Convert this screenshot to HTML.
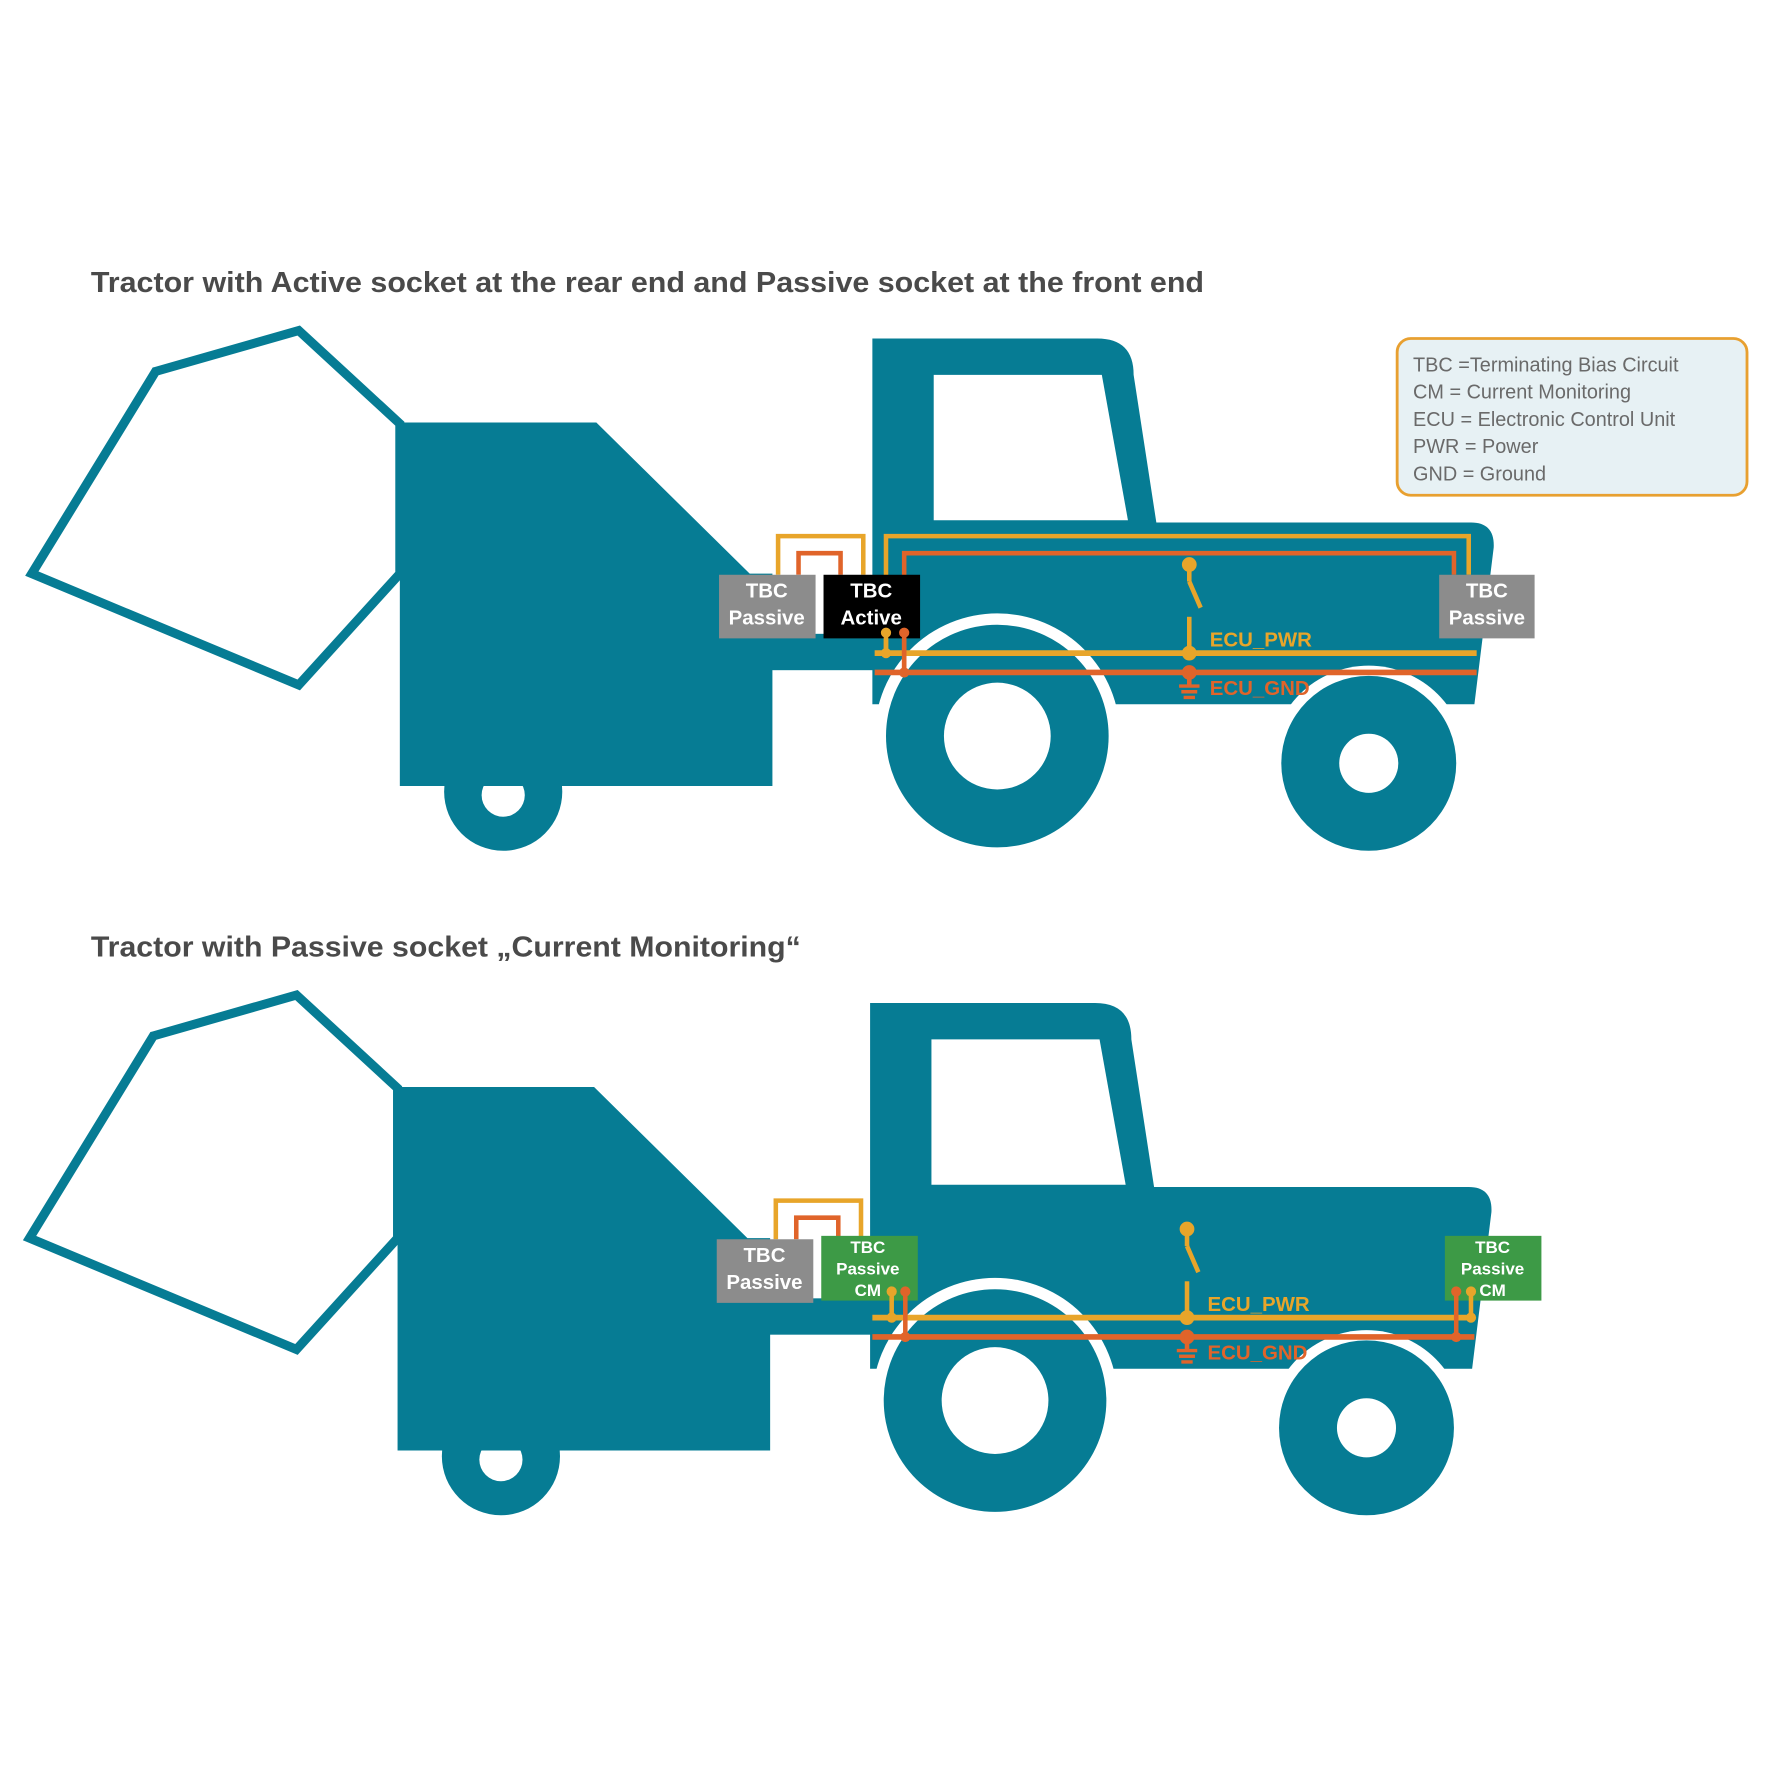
<!DOCTYPE html>
<html><head><style>html,body{margin:0;padding:0;background:#fff}svg{display:block}</style></head>
<body>
<svg width="1772" height="1772" viewBox="0 0 1560 1560" xmlns="http://www.w3.org/2000/svg" font-family="Liberation Sans, sans-serif">
<defs>
<g id="base">
  <polygon points="137,327 263,291 352,373 352,505 263,603 28,505" fill="#fff" stroke="#067c94" stroke-width="8" stroke-linejoin="miter"/>
  <circle cx="443" cy="697" r="52" fill="#067c94"/>
  <circle cx="443" cy="700" r="19" fill="#fff"/>
  <polygon points="352,372 525,372 660,505 680,505 680,692 352,692" fill="#067c94"/>
  <rect x="676" y="558" width="110" height="32" fill="#067c94"/>
  <path d="M768,298 L966,298 Q998,298 998,330 L1018,460 L1295,460 Q1316,460 1315,482 L1298,620 L768,620 Z" fill="#067c94"/>
  <polygon points="822,330 970,330 993,458 822,458" fill="#fff"/>
  <circle cx="878" cy="648" r="108" fill="#fff"/>
  <circle cx="878" cy="648" r="98" fill="#067c94"/>
  <circle cx="878" cy="648" r="47" fill="#fff"/>
  <circle cx="1205" cy="672" r="86" fill="#fff"/>
  <circle cx="1205" cy="672" r="77" fill="#067c94"/>
  <circle cx="1205" cy="672" r="26" fill="#fff"/>
  <path d="M685,506 V472 H760 V506" fill="none" stroke="#e8a52a" stroke-width="4"/>
  <path d="M703,506 V487 H740 V506" fill="none" stroke="#e0642a" stroke-width="4"/>
  <line x1="770" y1="575" x2="1300" y2="575" stroke="#e8a52a" stroke-width="5"/>
  <line x1="770" y1="592" x2="1300" y2="592" stroke="#e0642a" stroke-width="5"/>
  <g stroke="#e8a52a" stroke-width="4" fill="#e8a52a">
    <circle cx="1047" cy="497" r="4.5"/>
    <line x1="1047" y1="497" x2="1047" y2="512"/>
    <line x1="1047" y1="512" x2="1057" y2="535"/>
    <line x1="1047" y1="543" x2="1047" y2="575"/>
    <circle cx="1047" cy="575" r="4.5"/>
  </g>
  <g stroke="#e0642a" stroke-width="4" fill="#e0642a">
    <circle cx="1047" cy="592" r="4.5"/>
    <line x1="1047" y1="592" x2="1047" y2="603"/>
    <line x1="1038" y1="604" x2="1056" y2="604" stroke-width="3"/>
    <line x1="1040" y1="609" x2="1054" y2="609" stroke-width="3"/>
    <line x1="1042" y1="614" x2="1052" y2="614" stroke-width="3"/>
  </g>
  <text x="1065" y="569" font-size="18" font-weight="bold" fill="#e8a52a">ECU_PWR</text>
  <text x="1065" y="612" font-size="18" font-weight="bold" fill="#e0642a">ECU_GND</text>
  <rect x="633" y="506" width="85" height="56" fill="#8c8c8c"/>
  <text fill="#fff" font-size="18" font-weight="bold" text-anchor="middle"><tspan x="675" y="526">TBC</tspan><tspan x="675" y="550">Passive</tspan></text>
</g>
</defs>

<text x="80" y="257" font-size="25" font-weight="bold" fill="#4a4a4a" textLength="980" lengthAdjust="spacingAndGlyphs">Tractor with Active socket at the rear end and Passive socket at the front end</text>
<use href="#base"/>
<path d="M780,575 V472 H1293 V506" fill="none" stroke="#e8a52a" stroke-width="4"/>
<path d="M796,592 V487 H1280 V506" fill="none" stroke="#e0642a" stroke-width="4"/>
<rect x="725" y="506" width="85" height="56" fill="#000"/>
<text fill="#fff" font-size="18" font-weight="bold" text-anchor="middle"><tspan x="767" y="526">TBC</tspan><tspan x="767" y="550">Active</tspan></text>
<rect x="1267" y="506" width="84" height="56" fill="#8c8c8c"/>
<text fill="#fff" font-size="18" font-weight="bold" text-anchor="middle"><tspan x="1309" y="526">TBC</tspan><tspan x="1309" y="550">Passive</tspan></text>
<g stroke-width="4">
  <line x1="780" y1="557" x2="780" y2="575" stroke="#e8a52a"/><circle cx="780" cy="557" r="4.5" fill="#e8a52a"/><circle cx="780" cy="575" r="4.5" fill="#e8a52a"/>
  <line x1="796" y1="557" x2="796" y2="592" stroke="#e0642a"/><circle cx="796" cy="557" r="4.5" fill="#e0642a"/><circle cx="796" cy="592" r="4.5" fill="#e0642a"/>
</g>
<rect x="1230" y="298" width="308" height="138" rx="12" fill="#e7f1f4" stroke="#e8a030" stroke-width="2.5"/>
<g font-size="17.5" fill="#6a6a6a">
  <text x="1244" y="327">TBC =Terminating Bias Circuit</text>
  <text x="1244" y="351">CM = Current Monitoring</text>
  <text x="1244" y="375">ECU = Electronic Control Unit</text>
  <text x="1244" y="399">PWR = Power</text>
  <text x="1244" y="423">GND = Ground</text>
</g>

<text x="80" y="842" font-size="25" font-weight="bold" fill="#4a4a4a" textLength="625" lengthAdjust="spacingAndGlyphs">Tractor with Passive socket „Current Monitoring“</text>
<g transform="translate(-2,585)">
  <use href="#base"/>
  <rect x="725" y="503" width="85" height="57" fill="#3d9a46"/>
  <text fill="#fff" font-size="15" font-weight="bold" text-anchor="middle"><tspan x="766" y="518">TBC</tspan><tspan x="766" y="537">Passive</tspan><tspan x="766" y="556">CM</tspan></text>
  <rect x="1274" y="503" width="85" height="57" fill="#3d9a46"/>
  <text fill="#fff" font-size="15" font-weight="bold" text-anchor="middle"><tspan x="1316" y="518">TBC</tspan><tspan x="1316" y="537">Passive</tspan><tspan x="1316" y="556">CM</tspan></text>
  <g stroke-width="4">
    <line x1="787" y1="552" x2="787" y2="575" stroke="#e8a52a"/><circle cx="787" cy="552" r="4.5" fill="#e8a52a"/><circle cx="787" cy="575" r="4.5" fill="#e8a52a"/>
    <line x1="799" y1="552" x2="799" y2="592" stroke="#e0642a"/><circle cx="799" cy="552" r="4.5" fill="#e0642a"/><circle cx="799" cy="592" r="4.5" fill="#e0642a"/>
    <line x1="1284" y1="552" x2="1284" y2="592" stroke="#e0642a"/><circle cx="1284" cy="552" r="4.5" fill="#e0642a"/><circle cx="1284" cy="592" r="4.5" fill="#e0642a"/>
    <line x1="1297" y1="552" x2="1297" y2="575" stroke="#e8a52a"/><circle cx="1297" cy="552" r="4.5" fill="#e8a52a"/><circle cx="1297" cy="575" r="4.5" fill="#e8a52a"/>
  </g>
</g>
</svg>
</body></html>
